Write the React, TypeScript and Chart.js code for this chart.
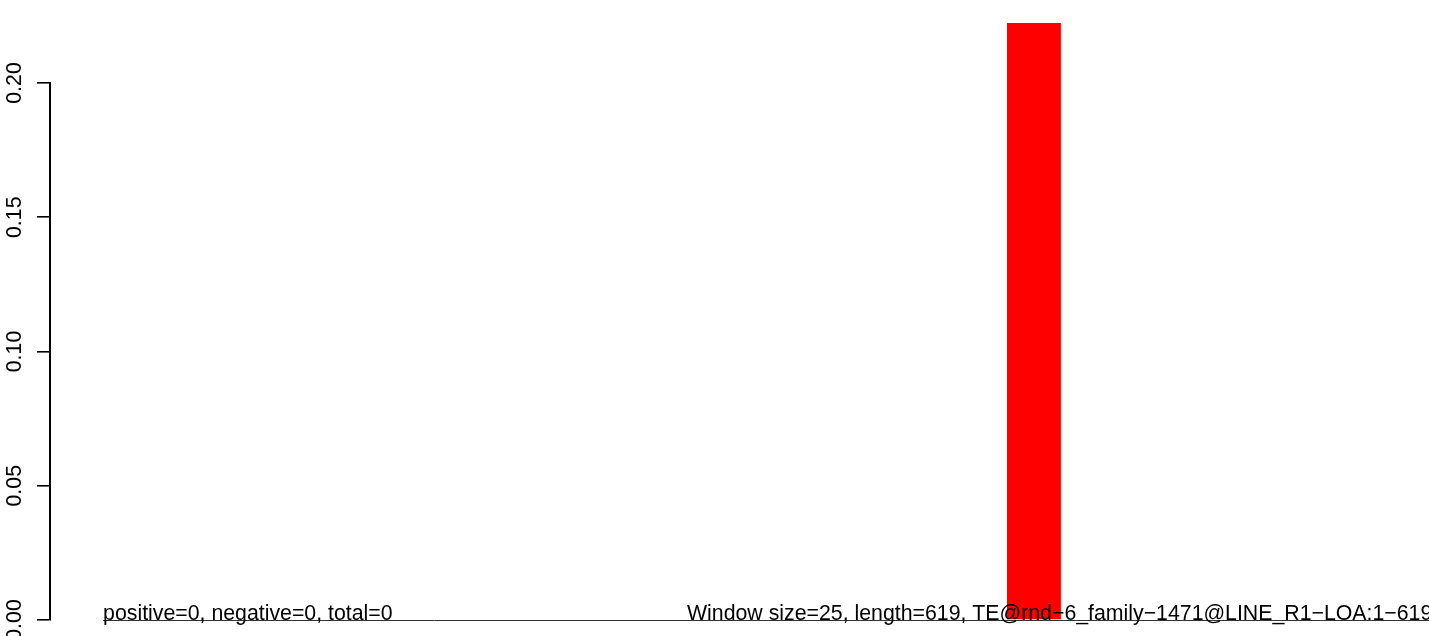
import React, { useEffect, useRef } from "react";
import { Chart, registerables } from "chart.js";

Chart.register(...registerables);

// Window positions (bar index) and the plotted value of each window
const windowIndex = [0, 1, 2, 3, 4, 5, 6, 7, 8, 9, 10, 11, 12, 13, 14, 15, 16, 17, 18, 19, 20, 21, 22, 23, 24];
const windowValues = [0, 0, 0, 0, 0, 0, 0, 0, 0, 0, 0, 0, 0, 0, 0.2223, 0, 0, 0, 0, 0, 0, 0, 0, 0, 0];
const yTickValues = [0, 0.05, 0.1, 0.15, 0.2];
const leftNote = "positive=0, negative=0, total=0";
const rightNote = "Window size=25, length=619, TE@rnd\u22126_family\u22121471@LINE_R1\u2212LOA:1\u2212619";

const FONT = "21.3px 'Liberation Sans', Arial, Helvetica, sans-serif";

const overlayPlugin = {
  id: "rOverlay",
  afterDraw(chart: any) {
    const ctx = chart.ctx as CanvasRenderingContext2D;
    const xs = chart.scales.x;
    const ys = chart.scales.y;
    const meta = chart.getDatasetMeta(0);
    const barW = meta.data[0] ? (meta.data[0] as any).width : 54;
    const y0 = ys.getPixelForValue(0);
    const xStart = xs.getPixelForValue(windowIndex[0]) - barW / 2;

    ctx.save();
    // zero line
    ctx.strokeStyle = "#333333";
    ctx.lineWidth = 1;
    ctx.beginPath();
    ctx.moveTo(xStart, Math.round(y0) + 0.5);
    ctx.lineTo(chart.width, Math.round(y0) + 0.5);
    ctx.stroke();

    // notes
    ctx.fillStyle = "#000000";
    ctx.font = FONT;
    ctx.textBaseline = "alphabetic";
    ctx.textAlign = "left";
    ctx.fillText(leftNote, xStart, y0);
    ctx.fillText(rightNote, 687, y0);

    // rotated y tick labels
    for (const v of yTickValues) {
      const py = ys.getPixelForValue(v);
      ctx.save();
      ctx.translate(21, py);
      ctx.rotate(-Math.PI / 2);
      ctx.textAlign = "center";
      ctx.textBaseline = "alphabetic";
      ctx.fillText(v.toFixed(2), 0, 0);
      ctx.restore();
    }
    ctx.restore();
  },
};

export default function App() {
  const canvasRef = useRef<HTMLCanvasElement | null>(null);

  useEffect(() => {
    const canvas = canvasRef.current;
    if (!canvas) return;
    const chart = new Chart(canvas, {
      type: "bar",
      data: {
        datasets: [
          {
            data: windowIndex.map((x, i) => ({ x, y: windowValues[i] })),
            backgroundColor: "#FF0000",
            borderWidth: 0,
            categoryPercentage: 1,
            barPercentage: 0.836,
            clip: false as any,
          },
        ],
      },
      options: {
        animation: false,
        responsive: false,
        devicePixelRatio: 1,
        events: [],
        layout: { padding: { top: 83, bottom: 16, left: 0, right: 0 } },
        plugins: {
          legend: { display: false },
          title: { display: false },
          tooltip: { enabled: false },
        },
        scales: {
          x: {
            type: "linear",
            display: false,
            min: -1.24,
            max: 20.12,
            offset: false,
          },
          y: {
            type: "linear",
            min: 0,
            max: 0.2,
            ticks: { display: false, stepSize: 0.05 },
            grid: {
              drawOnChartArea: false,
              drawTicks: true,
              tickLength: 13,
              color: "#000000",
              lineWidth: 1.6,
            },
            border: { display: true, color: "#000000", width: 2 },
            afterFit(scale: any) {
              scale.width = 50;
            },
          },
        },
      },
      plugins: [overlayPlugin],
    });
    return () => chart.destroy();
  }, []);

  return (
    <div
      style={{
        position: "fixed",
        left: 0,
        top: 0,
        width: 1429,
        height: 636,
        overflow: "hidden",
        background: "#ffffff",
      }}
    >
      <canvas ref={canvasRef} width={1429} height={636} style={{ display: "block" }} />
    </div>
  );
}
